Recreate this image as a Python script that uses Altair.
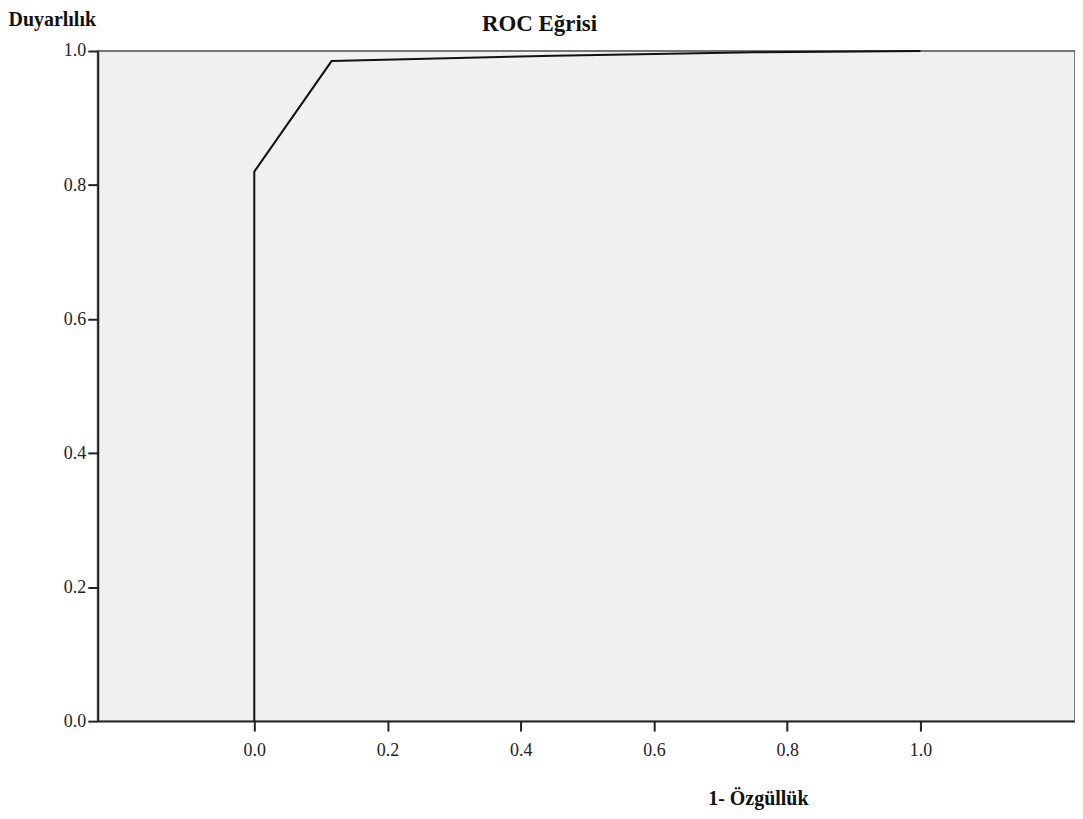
import altair as alt
import pandas as pd

fpr = [0.0, 0.0, 0.116, 0.45, 0.75, 1.0]
tpr = [0.0, 0.82, 0.985, 0.993, 0.998, 1.0]
x_ticks = [0.0, 0.2, 0.4, 0.6, 0.8, 1.0]
y_ticks = [0.0, 0.2, 0.4, 0.6, 0.8, 1.0]

df = pd.DataFrame({"fpr": fpr, "tpr": tpr, "order": list(range(len(fpr)))})

serif = "Liberation Serif"

chart = alt.Chart(df).mark_line(color="#111111", strokeWidth=2).encode(
    x=alt.X("fpr:Q",
            scale=alt.Scale(domain=[-0.235, 1.232], nice=False, zero=False),
            axis=alt.Axis(values=x_ticks, format=".1f", title="1- Özgüllük",
                          grid=False, tickSize=10, tickWidth=2, tickColor="#222222",
                          domainColor="#222222", domainWidth=2,
                          labelFont=serif, labelFontSize=18, labelColor="#222222",
                          labelPadding=10,
                          titleFont=serif, titleFontSize=20, titleFontWeight="bold",
                          titleColor="#111111", titleX=662, titleY=78,
                          titleBaseline="middle", titleAlign="center")),
    y=alt.Y("tpr:Q",
            scale=alt.Scale(domain=[0, 1], nice=False),
            axis=alt.Axis(values=y_ticks, format=".1f", title="Duyarlılık",
                          grid=False, tickSize=10, tickWidth=2, tickColor="#222222",
                          domainColor="#222222", domainWidth=2,
                          labelFont=serif, labelFontSize=18, labelColor="#222222",
                          labelPadding=2,
                          titleFont=serif, titleFontSize=20, titleFontWeight="bold",
                          titleColor="#111111", titleAngle=0, titleX=-90, titleY=-42,
                          titleAlign="left", titleBaseline="top")),
    order="order:Q",
).properties(
    width=980,
    height=672,
    title=alt.TitleParams("ROC Eğrisi", font=serif, fontSize=23, fontWeight="bold",
                          color="#111111", anchor="middle", dx=-47, offset=-27),
    autosize=alt.AutoSizeParams(type="none"),
    padding={"left": 90, "top": 42, "right": 0, "bottom": 89},
).configure_view(
    fill="#F0F0F0", stroke="#777777", strokeWidth=2
)

chart.save("out.html", embed_options={"renderer": "svg", "actions": False})
